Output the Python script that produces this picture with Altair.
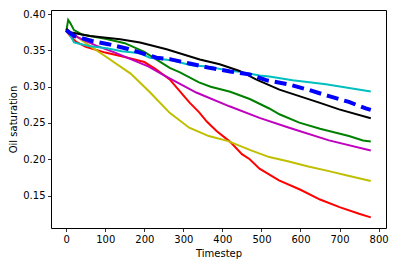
import altair as alt
import pandas as pd

red_x = [0, 10, 25, 50, 100, 150, 200, 230, 265, 300, 316, 340, 360, 385, 420, 450, 470, 495, 545, 600, 650, 700, 750, 780]
red_y = [0.377, 0.370, 0.362, 0.355, 0.347, 0.341, 0.334, 0.324, 0.310, 0.288, 0.278, 0.265, 0.252, 0.239, 0.224, 0.207, 0.200, 0.187, 0.171, 0.158, 0.1445, 0.134, 0.125, 0.120]

yellow_x = [0, 25, 50, 100, 165, 215, 265, 315, 365, 415, 470, 520, 570, 620, 670, 725, 780]
yellow_y = [0.378, 0.370, 0.360, 0.342, 0.318, 0.292, 0.264, 0.2435, 0.232, 0.225, 0.213, 0.203, 0.197, 0.190, 0.184, 0.177, 0.170]

magenta_x = [0, 30, 75, 125, 165, 210, 253, 333, 418, 495, 571, 673, 780]
magenta_y = [0.378, 0.368, 0.357, 0.347, 0.338, 0.328, 0.315, 0.292, 0.273, 0.257, 0.2435, 0.226, 0.212]

green_x = [0, 5, 10, 20, 40, 100, 150, 200, 265, 290, 340, 370, 420, 470, 520, 546, 597, 650, 673, 724, 760, 780]
green_y = [0.376, 0.392, 0.388, 0.378, 0.372, 0.366, 0.360, 0.348, 0.326, 0.320, 0.306, 0.300, 0.293, 0.283, 0.270, 0.262, 0.2505, 0.242, 0.239, 0.232, 0.226, 0.2245]

black_x = [0, 10, 61, 138, 189, 257, 342, 393, 444, 486, 546, 597, 648, 699, 780]
black_y = [0.380, 0.375, 0.370, 0.3655, 0.361, 0.3517, 0.3375, 0.331, 0.3217, 0.310, 0.296, 0.287, 0.278, 0.2688, 0.2565]

blue_x = [0, 20, 66, 108, 159, 231, 265, 316, 367, 420, 469, 512, 571, 622, 673, 724, 767, 780]
blue_y = [0.378, 0.370, 0.363, 0.3586, 0.352, 0.340, 0.338, 0.332, 0.326, 0.321, 0.317, 0.309, 0.303, 0.2955, 0.287, 0.279, 0.270, 0.268]

cyan_x = [0, 6, 20, 57, 104, 142, 189, 214, 274, 316, 359, 418, 444, 495, 520, 580, 665, 780]
cyan_y = [0.378, 0.375, 0.361, 0.356, 0.353, 0.349, 0.346, 0.340, 0.336, 0.330, 0.328, 0.322, 0.3205, 0.3155, 0.314, 0.309, 0.3035, 0.2935]

series_names = ["red", "yellow", "magenta", "green", "cyan", "black", "blue"]
series_colors = ["#ff0000", "#bfbf00", "#bf00bf", "#008000", "#00bfbf", "#000000", "#0000ff"]

xticks = [0, 100, 200, 300, 400, 500, 600, 700, 800]
yticks = [0.15, 0.20, 0.25, 0.30, 0.35, 0.40]

data = {
    "red": (red_x, red_y),
    "yellow": (yellow_x, yellow_y),
    "magenta": (magenta_x, magenta_y),
    "green": (green_x, green_y),
    "cyan": (cyan_x, cyan_y),
    "black": (black_x, black_y),
    "blue": (blue_x, blue_y),
}
rows = []
for name, (xs, ys) in data.items():
    for i, (xv, yv) in enumerate(zip(xs, ys)):
        rows.append({"series": name, "t": xv, "s": yv, "i": i})
df = pd.DataFrame(rows)

xscale = alt.Scale(domain=[-39, 819], nice=False, zero=False)
yscale = alt.Scale(domain=[0.1053, 0.4057], nice=False, zero=False)
cscale = alt.Scale(domain=series_names, range=series_colors)

xenc = alt.X("t:Q", scale=xscale, title="Timestep",
             axis=alt.Axis(values=xticks, format="d"))
yenc = alt.Y("s:Q", scale=yscale, title="Oil saturation",
             axis=alt.Axis(values=yticks, format=".2f"))

solid = alt.Chart(df).transform_filter(alt.datum.series != "blue").mark_line(strokeWidth=2).encode(
    x=xenc, y=yenc, order="i:Q",
    color=alt.Color("series:N", scale=cscale, legend=None),
    detail="series:N",
)
dashed = alt.Chart(df).transform_filter(alt.datum.series == "blue").mark_line(
    strokeWidth=4, strokeDash=[12, 6], color="#0000ff").encode(
    x=xenc, y=yenc, order="i:Q",
)

chart = alt.layer(solid, dashed).properties(
    width=335, height=218,
    autosize=alt.AutoSizeParams(type="none"),
    padding={"left": 51, "top": 10, "right": 9, "bottom": 38},
).configure_view(
    stroke="#000000", strokeWidth=1
).configure_axis(
    grid=False, domain=False,
    tickColor="#000000", tickSize=3.5, tickWidth=0.8,
    labelFont="DejaVu Sans", labelFontSize=10, labelColor="#000000",
    titleFont="DejaVu Sans", titleFontSize=10, titleFontWeight="normal", titleColor="#000000",
    labelPadding=2.5,
).configure_axisX(titlePadding=4).configure_axisY(titlePadding=4)

chart.save("out.html", embed_options={"renderer": "svg", "actions": False})
